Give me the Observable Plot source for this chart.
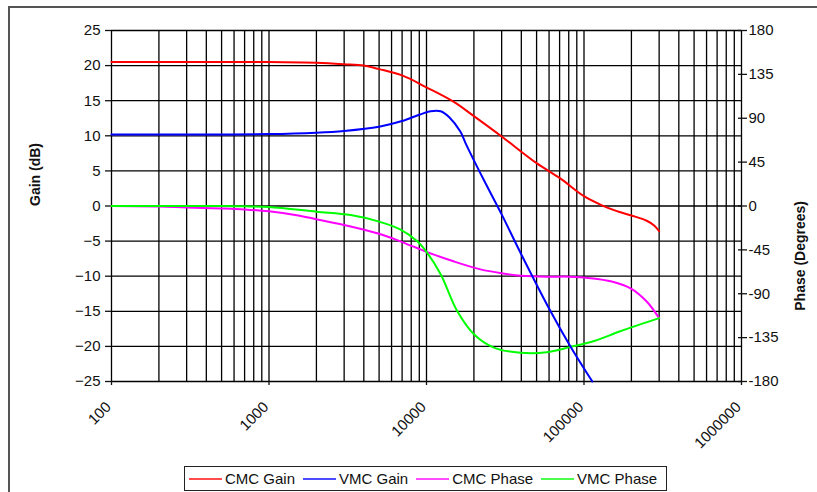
<!DOCTYPE html>
<html>
<head>
<meta charset="utf-8">
<script src="https://cdn.jsdelivr.net/npm/d3@7"></script>
<script src="https://cdn.jsdelivr.net/npm/@observablehq/plot@0.6"></script>
<style>
  html, body { margin: 0; padding: 0; background: #fff; }
  #wrap { position: relative; width: 817px; height: 492px; overflow: hidden; background: #fff;
          font-family: "Liberation Sans", Arial, sans-serif; }
  #frame { position: absolute; left: 8px; top: 6px; width: 1000px; height: 1000px;
           border-left: 2px solid #555; border-top: 2px solid #555; box-sizing: border-box; }
  #chart { position: absolute; left: 0; top: 0; }
  #legend { position: absolute; left: 184px; top: 466px; width: 483px; height: 25px;
            border: 1.5px solid #222; box-sizing: border-box; background: #fff;
            display: flex; align-items: center; font-size: 15px; color: #111; }
  .item { display: flex; align-items: center; }
  .sw { display: inline-block; width: 33px; height: 2px; margin-right: 3px; }
</style>
</head>
<body>
<div id="wrap">
  <div id="frame"></div>
  <div id="chart"></div>
  <div id="legend"></div>
</div>
<script>
// ---- Data ----
const cmcGainFreq = [100, 500, 1000, 2000, 3000, 4000, 5000, 7000, 10000, 15000, 20000, 30000, 50000, 70000, 100000, 130000, 160000, 200000, 250000, 280000, 300000];
const cmcGain     = [20.5, 20.5, 20.5, 20.4, 20.2, 20.0, 19.5, 18.6, 16.9, 14.8, 12.8, 9.9, 6.1, 4.0, 1.4, 0.1, -0.7, -1.35, -2.1, -2.8, -3.6];

const vmcGainFreq = [100, 1000, 2000, 3000, 5000, 7000, 9000, 10600, 12300, 14000, 16400, 18000, 23000, 30000, 40000, 60000, 82000, 113000];
const vmcGain     = [10.2, 10.25, 10.45, 10.7, 11.3, 12.1, 13.0, 13.5, 13.5, 12.6, 10.6, 8.6, 3.8, -1.2, -6.9, -14.6, -20.0, -25.0];

const cmcPhaseFreq = [100, 200, 300, 500, 700, 1000, 1500, 2000, 3000, 5000, 7000, 10000, 15000, 22000, 30000, 40000, 60000, 80000, 110000, 150000, 200000, 250000, 300000];
const cmcPhase     = [0, -0.5, -1.5, -2.5, -3.5, -5.5, -9.5, -13.5, -19.5, -28.5, -37, -47, -57, -65, -69, -71.5, -72.5, -72.5, -74, -77.5, -85, -98, -115];

const vmcPhaseFreq = [100, 500, 700, 1000, 2000, 3300, 5000, 6800, 8700, 10100, 12300, 15700, 20000, 27000, 39500, 58000, 82000, 116000, 170000, 300000];
const vmcPhase     = [0, 0, -0.3, -1, -5.8, -9.3, -16, -24, -36, -48, -70, -108, -131.5, -145.5, -150.5, -150, -144.5, -138.5, -128.5, -115];

const xGridTicks = [100,200,300,400,500,600,700,800,900,
                    1000,2000,3000,4000,5000,6000,7000,8000,9000,
                    10000,20000,30000,40000,50000,60000,70000,80000,90000,
                    100000,200000,300000,400000,500000,600000,700000,800000,900000,
                    1000000];
const xLabelTicks = [100, 1000, 10000, 100000, 1000000];
const gainTicks = [-25, -20, -15, -10, -5, 0, 5, 10, 15, 20, 25];
const phaseTicks = [-180, -135, -90, -45, 0, 45, 90, 135, 180];

const seriesNames  = ["CMC Gain", "VMC Gain", "CMC Phase", "VMC Phase"];
const seriesColors = ["#ff0000", "#0000ff", "#ff00ff", "#00ff00"];

// gain axis: -25..25 dB ; phase axis: -180..180 deg  => 7.2 deg per dB
const PH = 7.2;

const toRows = (fs, vs) => fs.map((f, i) => ({f, v: vs[i]}));
const cmcG = toRows(cmcGainFreq, cmcGain);
const vmcG = toRows(vmcGainFreq, vmcGain);
const cmcP = toRows(cmcPhaseFreq, cmcPhase);
const vmcP = toRows(vmcPhaseFreq, vmcPhase);

const font = "Liberation Sans, Arial, sans-serif";
const gridStyle = {stroke: "#000", strokeOpacity: 1, strokeWidth: 1.3};
const lineOpts = {strokeWidth: 2, curve: "catmull-rom"};

const chart = Plot.plot({
  width: 817,
  height: 462,
  marginLeft: 111,
  marginRight: 76,
  marginTop: 30,
  marginBottom: 81,
  style: {fontFamily: font, fontSize: "15px", color: "#111", background: "transparent"},
  x: {type: "log", domain: [100, 1000000]},
  y: {domain: [-25, 25]},
  marks: [
    Plot.gridX(xGridTicks, gridStyle),
    Plot.gridY(gainTicks, gridStyle),
    Plot.axisY(gainTicks, {anchor: "left", tickSize: 6, tickPadding: 5, label: null, strokeWidth: 1.3}),
    Plot.axisY(phaseTicks.map(p => p / PH), {anchor: "right", tickSize: 9, dx: -4, tickFormat: () => "", label: null, strokeWidth: 1.3}),
    Plot.axisY(phaseTicks.map(p => p / PH), {anchor: "right", tickSize: 0, tickPadding: 7, tickFormat: d => String(Math.round(d * PH)), label: null}),
    Plot.axisX(xLabelTicks, {tickSize: 4, tickFormat: () => "", label: null, strokeWidth: 1.3}),
    Plot.text(xLabelTicks, {x: d => d, frameAnchor: "bottom", text: d => String(d), rotate: -45,
      textAnchor: "end", lineAnchor: "middle", dy: 23, dx: -3, fontSize: 15, fill: "#111"}),
    Plot.line(cmcP, {x: "f", y: d => d.v / PH, stroke: seriesColors[2], ...lineOpts}),
    Plot.line(vmcP, {x: "f", y: d => d.v / PH, stroke: seriesColors[3], ...lineOpts}),
    Plot.line(cmcG, {x: "f", y: "v", stroke: seriesColors[0], ...lineOpts}),
    Plot.line(vmcG, {x: "f", y: "v", stroke: seriesColors[1], ...lineOpts}),
    Plot.text(["Gain (dB)"], {frameAnchor: "left", rotate: -90, dx: -76, fontWeight: "bold", fontSize: 14, fill: "#111"}),
    Plot.text(["Phase (Degrees)"], {frameAnchor: "right", rotate: -90, dx: 59, dy: -5, fontWeight: "bold", fontSize: 14, fill: "#111"})
  ]
});
document.getElementById("chart").appendChild(chart);

// legend
const legend = document.getElementById("legend");
const gaps = [4, 8, 8, 8];
seriesNames.forEach((name, i) => {
  const it = document.createElement("span");
  it.className = "item";
  it.style.marginLeft = gaps[i] + "px";
  const sw = document.createElement("span");
  sw.className = "sw";
  sw.style.background = seriesColors[i];
  sw.style.opacity = 0.7;
  it.appendChild(sw);
  it.appendChild(document.createTextNode(name));
  legend.appendChild(it);
});
</script>
</body>
</html>
